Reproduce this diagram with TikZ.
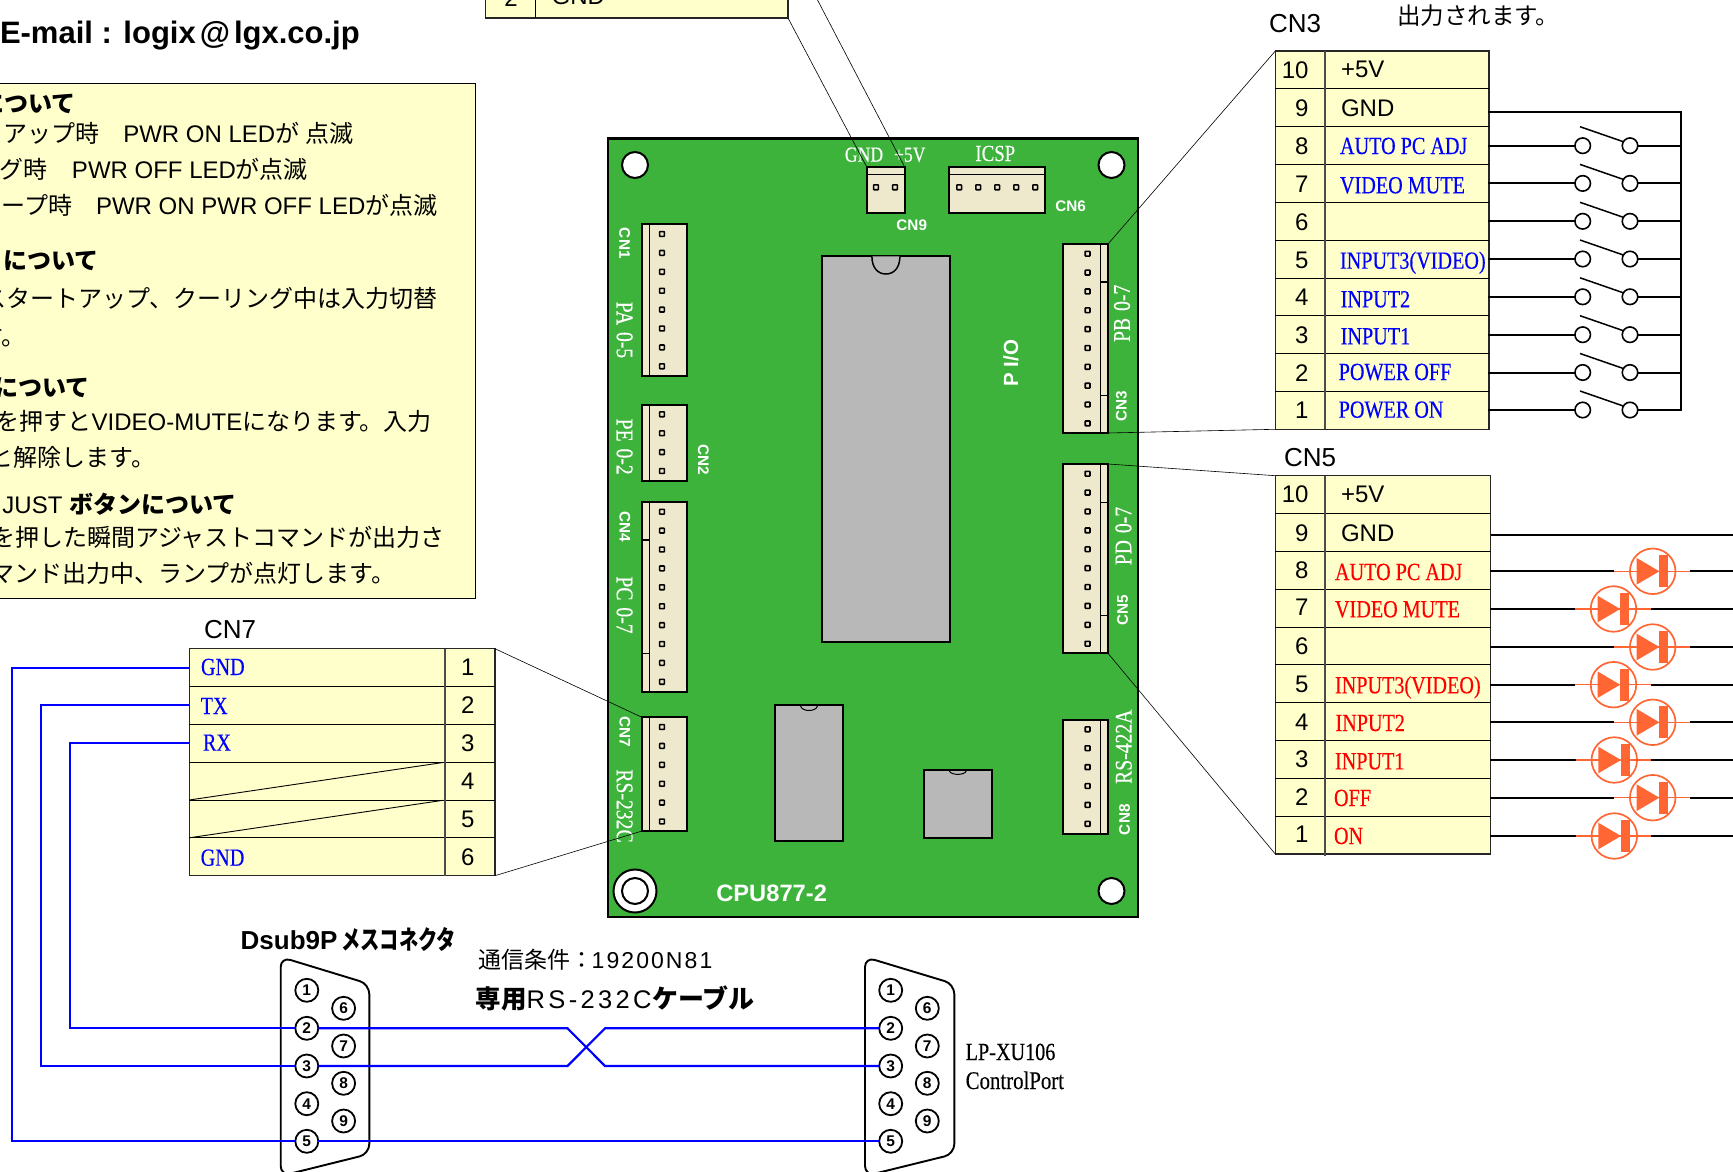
\documentclass[tikz,border=0pt]{standalone}
\usepackage{fontspec}
\setmainfont{Liberation Sans}
\newfontfamily\J{Noto Sans CJK JP}
\newfontfamily\Jn[FakeStretch=.74]{Noto Sans CJK JP}
\newfontfamily\Sf[FakeStretch=.82,FakeBold=.3]{Liberation Serif}
\newfontfamily\Ls[LetterSpace=9]{Liberation Sans}
\newfontfamily\Lt[LetterSpace=13]{Liberation Sans}
\newcommand{\fs}[1]{\fontsize{#1}{#1}\selectfont}
\definecolor{pcb}{HTML}{3DB33C}
\definecolor{beige}{HTML}{EEE8CD}
\definecolor{icgray}{HTML}{B8B8B8}
\definecolor{pale}{HTML}{FFFFCC}
\definecolor{ledc}{HTML}{FF6633}
\definecolor{wireblue}{HTML}{0000FF}
\tikzset{
  x=1pt,y=-1pt,
  txt/.style={inner sep=0pt,outer sep=0pt},
  note/.style={txt,anchor=base east,font=\fs{24}},
  notehead/.style={txt,anchor=base east,font=\fs{24}\bfseries},
  num/.style={txt,anchor=base east,font=\fs{24}},
  sans/.style={txt,anchor=base west,font=\fs{24}},
  blab/.style={txt,anchor=base west,text=wireblue,font=\Sf\fs{24.6}},
  rlab/.style={txt,anchor=base west,text=red,font=\Sf\fs{24.6}},
  cnlab/.style={txt,anchor=base west,font=\fs{26}},
  wtl/.style={txt,text=white,font=\Sf\fs{24}},
  wcn/.style={txt,text=white,font=\bfseries\fs{15.3}},
  rect/.style={inner sep=0pt,outer sep=0pt,anchor=north west},
  tbl/.style={rect,draw=black!85,fill=pale,line width=1.1pt},
  conn/.style={rect,draw=black,fill=beige,line width=2pt},
  chip/.style={rect,draw=black,fill=icgray,line width=2pt},
  pinbox/.style={draw=black,fill=beige,line width=1.6pt,inner sep=0pt,outer sep=0pt,minimum size=4.8pt,rounded corners=.6pt},
  hole/.style={circle,draw=black,fill=white,line width=2pt,inner sep=0pt,outer sep=0pt,minimum size=26pt},
  leader/.style={draw=black,line width=.6pt},
  wire/.style={draw=black,line width=2pt},
  bwire/.style={draw=wireblue,line width=2.2pt},
  swc/.style={circle,draw=black,fill=white,line width=1.6pt,inner sep=0pt,outer sep=0pt,minimum size=15.5pt},
  ledring/.style={circle,draw=ledc,line width=1.7pt,inner sep=0pt,outer sep=0pt,minimum size=45.5pt},
  dpin/.style={circle,draw=black,fill=white,line width=1.8pt,inner sep=0pt,outer sep=0pt,minimum size=23pt,font=\bfseries\fs{15.5}},
  shell/.style={draw=black,line width=1.9pt,rounded corners=10pt},
}
\newcommand{\RN}[6]{\pgfmathsetmacro\rw{#5-#3}\pgfmathsetmacro\rh{#6-#4}%
  \node[#1,minimum width=\rw pt,minimum height=\rh pt] (#2) at (#3,#4) {};}
\newcommand{\rows}[4]{% x0 x1 ytop n
  \foreach \k in {1,...,#4} {\pgfmathsetmacro\yy{#3+37.83*\k}\draw[black,line width=.9pt] (#1,\yy) -- (#2,\yy);}}
\begin{document}
\begin{tikzpicture}
\useasboundingbox (0,0) rectangle (1733,1172);
\clip (0,0) rectangle (1733,1172);
\fill[white] (0,0) rectangle (1733,1172);

% heading
\node[txt,anchor=base west,font=\fs{31}\bfseries] (mail) at (0,44) {E-mail : logix\hspace{4pt}@\hspace{4pt}lgx.co.jp};

% note box
\RN{rect,draw=black,fill=pale,line width=1pt}{notebox}{-5}{84}{475.7}{598.5}
\node[notehead] (n1) at (75.7,112) {\J について};
\node[note] (n2) at (354,142) {{\J アップ時}\hspace{24pt}PWR ON LED{\J が} {\J 点滅}};
\node[note] (n3) at (308,178) {{\J グ時}\hspace{24pt}PWR OFF LED{\J が点滅}};
\node[note] (n4) at (437.4,214) {{\J ープ時}\hspace{24pt}PWR ON PWR OFF LED{\J が点滅}};
\node[notehead] (n5) at (99,269) {\J について};
\node[note] (n6) at (438,307) {\J スタートアップ、クーリング中は入力切替};
\node[note] (n7) at (25.5,345.5) {\J す。};
\node[notehead] (n8) at (89.3,396) {\J について};
\node[note] (n9) at (431.9,430.5) {{\J を押すと}VIDEO-MUTE{\J になります。入力}};
\node[note] (n10) at (155,466) {\J と解除します。};
\node[note] (n11) at (236.4,513.5) {JUST {\bfseries\J ボタンについて}};
\node[note] (n12) at (445,546.5) {\J を押した瞬間アジャストコマンドが出力さ};
\node[note] (n13) at (395.5,582) {\J マンド出力中、ランプが点灯します。};
\node[txt,anchor=base west,font=\fs{23.5}] (outtxt) at (1397,25) {\J 出力されます。};

% board
\RN{rect,draw=black,fill=pcb,line width=2.4pt}{board}{608}{138.3}{1137.7}{916.7}
\node[hole] (h1) at (635,165) {};
\node[hole] (h2) at (1111.5,165) {};
\node[hole] (h3) at (1111.5,891) {};
\node[hole,minimum size=43pt] (h4o) at (635,891) {};
\node[hole] (h4) at (635,891) {};

% ICs
\RN{chip}{icA}{821.7}{256.3}{950}{641.7}
\draw[fill=icgray,line width=1.5pt] (871.9,256.3) .. controls (871.9,268) and (878,274) .. (885.9,274) .. controls (893.8,274) and (899.9,268) .. (899.9,256.3);
\RN{chip}{icB}{774.7}{705}{843}{841}
\draw[fill=icgray,line width=1pt] (800.6,706) .. controls (802,712) and (816,712) .. (817.4,706);
\RN{chip}{icC}{923.8}{770}{991.9}{838.3}
\draw[fill=icgray,line width=1pt] (949.4,771) .. controls (951,775.5) and (964.6,775.5) .. (966.2,771);

% left connectors
\RN{conn}{cnA}{642}{224.3}{687}{376}
\RN{conn}{cnB}{642}{405}{687}{480.7}
\RN{conn}{cnD}{642}{501.7}{687}{691.7}
\RN{conn}{cnG}{642}{717.3}{687}{831}
\draw[line width=1.5pt] (649.5,224.3) -- (649.5,376);
\draw[line width=1.5pt] (649.5,405) -- (649.5,480.7);
\draw[line width=1.5pt] (649.5,501.7) -- (649.5,691.7);
\draw[line width=1.5pt] (649.5,717.3) -- (649.5,831);
\draw[line width=1.3pt] (642,540) -- (649.5,540);
\draw[line width=1.3pt] (642,653.3) -- (649.5,653.3);
\foreach \i in {0,...,7} \node[pinbox] (pa\i) at (662,{234+18.9*\i}) {};
\foreach \i in {0,...,3} \node[pinbox] (pb\i) at (662,{414.3+18.9*\i}) {};
\foreach \i in {0,...,9} \node[pinbox] (pd\i) at (662,{511.7+18.9*\i}) {};
\foreach \i in {0,...,5} \node[pinbox] (pg\i) at (662,{727+18.9*\i}) {};

% right connectors
\RN{conn}{cnC}{1063}{244}{1108}{433}
\RN{conn}{cnE}{1063}{464}{1108}{653.3}
\RN{conn}{cnH}{1063}{720}{1108}{833.7}
\draw[line width=1.5pt] (1100.3,244) -- (1100.3,433);
\draw[line width=1.5pt] (1100.3,464) -- (1100.3,653.3);
\draw[line width=1.5pt] (1100.3,720) -- (1100.3,833.7);
\draw[line width=1.3pt] (1100.3,282) -- (1108,282);
\draw[line width=1.3pt] (1100.3,395.3) -- (1108,395.3);
\draw[line width=1.3pt] (1100.3,502.3) -- (1108,502.3);
\draw[line width=1.3pt] (1100.3,615.7) -- (1108,615.7);
\foreach \i in {0,...,9} \node[pinbox] (pc\i) at (1087.6,{253.7+18.85*\i}) {};
\foreach \i in {0,...,9} \node[pinbox] (pe\i) at (1087.6,{473.7+18.89*\i}) {};
\foreach \i in {0,...,5} \node[pinbox] (ph\i) at (1087.6,{729.3+18.9*\i}) {};

% top connectors
\RN{conn}{cnI}{866.6}{166.7}{904.5}{212.7}
\RN{conn}{cnF}{949}{166.7}{1044.8}{212.7}
\draw[line width=1.5pt] (866.6,174.3) -- (904.5,174.3);
\draw[line width=1.5pt] (949,174.3) -- (1044.8,174.3);
\node[pinbox] (pi0) at (876,187.3) {};
\node[pinbox] (pi1) at (895,187.3) {};
\foreach \i in {0,...,4} \node[pinbox] (pf\i) at ({959.2+19*\i},187.3) {};

% board labels
\node[wcn,rotate=-90] (lcn1) at (624.6,243.3) {CN1};
\node[wtl,rotate=-90] (lpa) at (624.6,330) {PA\hspace{2pt} 0-5};
\node[wtl,rotate=-90] (lpe) at (624.6,446.7) {PE\hspace{2pt} 0-2};
\node[wcn,rotate=-90] (lcn2) at (703.5,460) {CN2};
\node[wcn,rotate=-90] (lcn4) at (625,526.7) {CN4};
\node[wtl,rotate=-90] (lpc) at (624.6,605) {PC\hspace{2pt} 0-7};
\node[wcn,rotate=-90] (lcn7) at (625,732) {CN7};
\node[wtl,rotate=-90] (lrs2) at (624.6,806) {RS-232C};
\node[wtl,rotate=90] (lpb) at (1122,313.3) {PB\hspace{2pt} 0-7};
\node[wcn,rotate=90] (lcn3b) at (1121.3,406.3) {CN3};
\node[wtl,rotate=90] (lpd) at (1123.4,536) {PD\hspace{2pt} 0-7};
\node[wcn,rotate=90] (lcn5b) at (1122.7,610.3) {CN5};
\node[wtl,rotate=90] (lrs4) at (1123.8,746.7) {RS-422A};
\node[wcn,rotate=90] (lcn8) at (1124.5,819.7) {CN8};
\node[txt,text=white,rotate=90,font=\bfseries\fs{20.5}] (lpio) at (1011,363.3) {P I/O};
\node[txt,text=white,anchor=base west,font=\Sf\fs{21.5}] (lgnd) at (844.9,161.7) {GND};
\node[txt,text=white,anchor=base west,font=\Sf\fs{21.5}] (lfive) at (894,161.7) {+5V};
\node[txt,text=white,anchor=base west,font=\Sf\fs{23}] (licsp) at (975.4,161) {ICSP};
\node[wcn,anchor=base west] (lcn9) at (896.4,230) {CN9};
\node[wcn,anchor=base west] (lcn6) at (1055.3,211) {CN6};
\node[txt,text=white,anchor=base west,font=\bfseries\fs{23.7}] (lcpu) at (716.3,901.7) {CPU877-2};

% top table (CN9)
\RN{tbl}{tA}{485.7}{-40}{788}{18}
\draw[black,line width=1pt] (535.7,-40) -- (535.7,18);
\node[num] (tA2) at (517.7,7) {2};
\node[sans] (tAg) at (551.7,5) {GND};

% CN3 table
\node[cnlab] (cn3title) at (1269,32.7) {CN3};
\RN{tbl}{tC}{1275.3}{51}{1489}{429.3}
\rows{1275.3}{1489}{51}{9}
\draw[black!70,line width=1.2pt] (1325,51) -- (1325,429.3);
\foreach \n/\yy in {10/78.5,9/116.5,8/154,7/192,6/230,5/268,4/305.5,3/343.5,2/381,1/418}
  \node[num] (tC\n) at (1308.5,\yy) {\n};
\node[sans] (tCv) at (1341,77.5) {+5V};
\node[sans] (tCg) at (1341,116.5) {GND};
\node[blab] (tC8l) at (1340,154) {AUTO PC ADJ};
\node[blab] (tC7l) at (1340,193.3) {VIDEO MUTE};
\node[blab] (tC5l) at (1340,268.7) {INPUT3(VIDEO)};
\node[blab] (tC4l) at (1340.7,307.3) {INPUT2};
\node[blab] (tC3l) at (1340.7,344.3) {INPUT1};
\node[blab] (tC2l) at (1338.7,380) {POWER OFF};
\node[blab] (tC1l) at (1338.7,417.7) {POWER ON};

% switches
\coordinate (gndA) at (1489,112.3);
\coordinate (busTop) at (1680.7,112.3);
\foreach \i/\yy in {8/145.7,7/183.4,6/221.3,5/259,4/296.8,3/334.7,2/372.5,1/410}{
  \coordinate (cr\i) at (1488,\yy);
  \coordinate (bus\i) at (1680.7,\yy);
  \node[swc] (swl\i) at (1582.7,\yy) {};
  \node[swc] (swr\i) at (1630,\yy) {};
  \draw[wire] (cr\i) -- (swl\i);
  \draw[wire] (swr\i) -- (bus\i);
  \draw[black,line width=1.5pt] (1580,\yy-19) -- (1623.3,\yy-4);
}
\draw[wire,line cap=rect] (gndA) -- (busTop) -- (bus1);

% CN5 table
\node[cnlab] (cn5title) at (1284,466) {CN5};
\RN{tbl}{tE}{1275.3}{475.7}{1490.7}{854}
\rows{1275.3}{1490.7}{475.7}{9}
\draw[black!70,line width=1.2pt] (1325,475.7) -- (1325,856);
\foreach \n/\yy in {10/502.7,9/541,8/578,7/615.5,6/654,5/692,4/730,3/767.5,2/805,1/842.5}
  \node[num] (tE\n) at (1308.5,\yy) {\n};
\node[sans] (tEv) at (1341,502.7) {+5V};
\node[sans] (tEg) at (1341,541) {GND};
\node[rlab] (tE8l) at (1335,580) {AUTO PC ADJ};
\node[rlab] (tE7l) at (1335,617.3) {VIDEO MUTE};
\node[rlab] (tE5l) at (1335,693.3) {INPUT3(VIDEO)};
\node[rlab] (tE4l) at (1335.5,731) {INPUT2};
\node[rlab] (tE3l) at (1335,769.3) {INPUT1};
\node[rlab] (tE2l) at (1334,806) {OFF};
\node[rlab] (tE1l) at (1334,844) {ON};

% LEDs
\coordinate (gndE) at (1490.7,534.7);
\coordinate (gndEnd) at (1733,534.7);
\draw[wire] (gndE) -- (gndEnd);
\foreach \i/\yy/\cx in {8/571.3/1652.7,7/609/1613.5,6/647/1652.7,5/684.7/1613.5,4/722.3/1652.7,3/760/1614.3,2/797.7/1652.7,1/836/1614.3}{
  \coordinate (er\i) at (1490,\yy);
  \coordinate (ein\i) at (\cx-38.7,\yy);
  \coordinate (eout\i) at (\cx+37,\yy);
  \coordinate (eend\i) at (1733,\yy);
  \draw[wire] (er\i) -- (ein\i);
  \draw[wire] (eout\i) -- (eend\i);
  \draw[ledc,line width=1.5pt] (ein\i) -- (eout\i);
  \node[ledring] (led\i) at (\cx,\yy) {};
  \fill[ledc] (\cx-16,\yy-13.3) -- (\cx+6.7,\yy) -- (\cx-16,\yy+13.3) -- cycle;
  \fill[ledc] (\cx+6.7,\yy-16) rectangle (\cx+15.7,\yy+16);
}

% CN7 table
\node[cnlab] (cn7title) at (204,638.7) {CN7};
\RN{tbl}{tG}{189.3}{648.7}{495}{875.7}
\rows{189.3}{495}{648.7}{5}
\draw[black!70,line width=1.2pt] (445,648.7) -- (445,875.7);
\draw[black,line width=.9pt] (189.3,800) -- (443,762.5);
\draw[black,line width=.9pt] (189.3,837.8) -- (443,800.3);
\foreach \n/\yy in {1/675.7,2/713.7,3/751.5,4/789.3,5/827.2,6/865}
  \node[txt,anchor=base,font=\fs{24}] (tG\n) at (467.7,\yy) {\n};
\node[blab] (tG1l) at (201,675) {GND};
\node[blab] (tG2l) at (200.7,714) {TX};
\node[blab] (tG3l) at (203,750.7) {RX};
\node[blab] (tG6l) at (200.7,865.7) {GND};

% D-sub left
\draw[shell] (280.7,957) -- (369.3,984) -- (369.3,1154) -- (280.7,1176) -- cycle;
\foreach \n/\xx/\yy in {1/306.8/990.3,2/306.8/1028.3,3/306.8/1066,4/306.8/1103.7,5/306.8/1141.3,6/343.6/1008.3,7/343.6/1046,8/343.6/1083.3,9/343.6/1121}
  \node[dpin] (dl\n) at (\xx,\yy) {\n};
% D-sub right
\draw[shell] (865,957) -- (954.3,984) -- (954.3,1154) -- (865,1176) -- cycle;
\foreach \n/\xx/\yy in {1/890.7/990.3,2/890.7/1028.3,3/890.7/1066,4/890.7/1103.7,5/890.7/1141.3,6/927.3/1008.3,7/927.3/1046,8/927.3/1083.3,9/927.3/1121}
  \node[dpin] (dr\n) at (\xx,\yy) {\n};

% blue wiring
\coordinate (cg1) at (189.3,667.7);
\coordinate (cg2) at (189.3,705.3);
\coordinate (cg3) at (189.3,743.3);
\draw[bwire] (cg1) -- (12.3,667.7) -- (12.3,1141.3) -- (dl5.west);
\draw[bwire] (cg2) -- (41.3,705.3) -- (41.3,1066) -- (dl3.west);
\draw[bwire] (cg3) -- (70.3,743.3) -- (70.3,1028.3) -- (dl2.west);
\draw[bwire] (dl2.east) -- (567.5,1028.3) -- (605,1066) -- (dr3.west);
\draw[bwire] (dl3.east) -- (567.5,1066) -- (605,1028.3) -- (dr2.west);
\draw[bwire] (dl5.east) -- (dr5.west);

% cable labels
\node[txt,anchor=base west,font=\fs{26}\bfseries] (dsub) at (240.7,949.3) {Dsub9P{\hspace{4pt}\Jn メスコネクタ}};
\node[txt,anchor=base west,font=\fs{23}] (cond) at (478.2,968.3) {{\J 通信条件：}\hspace{-1.5pt}{\Ls 19200N81}};
\node[txt,anchor=base west] (cable) at (475.7,1008.3) {{\fs{25.5}\J\bfseries 専用}{\fs{25.5}\Lt RS-232C}{\hspace{1pt}\fs{26}\J\bfseries ケーブル}};
\node[txt,anchor=base west,font=\Sf\fs{24.6}] (port1) at (965.7,1060) {LP-XU106};
\node[txt,anchor=base west,font=\Sf\fs{25.4}] (port2) at (965.7,1089) {ControlPort};

% leaders
\coordinate (ltop) at (812.3,-10);
\draw[leader] (tA.south east) -- (cnI.north west);
\draw[leader] (ltop) -- (cnI.north east);
\draw[leader] (cnC.north east) -- (tC.north west);
\draw[leader] (cnC.south east) -- (tC.south west);
\draw[leader] (cnE.north east) -- (tE.north west);
\draw[leader] (cnE.south east) -- (tE.south west);
\draw[leader] (tG.north east) -- (cnG.north west);
\draw[leader] (tG.south east) -- (cnG.south west);
\end{tikzpicture}
\end{document}
